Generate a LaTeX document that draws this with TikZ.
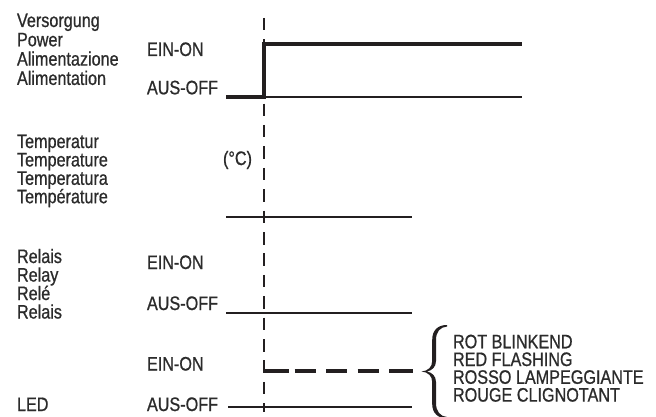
\documentclass[tikz,border=0pt]{standalone}
\usepackage{fontspec}
\setmainfont{Liberation Sans}[FakeStretch=0.83,FakeBold=0.8]
\definecolor{ink}{HTML}{231F20}
\definecolor{txt}{HTML}{2B2B2B}
\begin{document}
\begin{tikzpicture}[x=1pt,y=-1pt,
  lbl/.style={anchor=base west, inner sep=0pt, outer sep=0pt, font=\fontsize{19.5}{20}\selectfont, text=txt},
  rlbl/.style={anchor=base east, inner sep=0pt, outer sep=0pt, font=\fontsize{19.5}{20}\selectfont, text=txt},
  thick line/.style={draw=ink, line width=3.2pt},
  mid line/.style={draw=ink, line width=2.6pt},
  thin line/.style={draw=ink, line width=1.8pt},
  marker/.style={draw=ink, line width=1.5pt, dash pattern=on 12.5pt off 8.9pt},
  blink/.style={draw=ink, line width=3.6pt, dash pattern=on 24.5pt off 6pt on 21pt off 10.5pt on 21pt off 10.5pt on 21pt off 10.5pt on 30pt}
]
\useasboundingbox (0,0) rectangle (656,417);

% ---- left labels ----
\foreach \t/\y [count=\i] in {Versorgung/27, Power/46.3, Alimentazione/65.6, Alimentation/84.9}
  \node[lbl] (pw\i) at (17,\y) {\t};
\foreach \t/\y [count=\i] in {Temperatur/148, Temperature/166.4, Temperatura/184.8, Température/203.2}
  \node[lbl] (tp\i) at (17,\y) {\t};
\foreach \t/\y [count=\i] in {Relais/263, Relay/281.5, Relé/300, Relais/318.5}
  \node[lbl] (rl\i) at (17,\y) {\t};
\node[lbl] (led) at (17,411) {LED};

% ---- state labels ----
\node[lbl] (pwon) at (147,56) {EIN-ON};
\node[lbl] (pwoff) at (147,94.3) {AUS-OFF};
\node[rlbl] (degc) at (252,165) {(°C)};
\node[lbl] (rlon) at (147,269) {EIN-ON};
\node[lbl] (rloff) at (147,310) {AUS-OFF};
\node[lbl] (ledon) at (147,370.5) {EIN-ON};
\node[lbl] (ledoff) at (147,411) {AUS-OFF};

% ---- coordinates ----
\coordinate (mtop) at (264,18);
\coordinate (mbot) at (264,412);
\coordinate (p0) at (226,97);
\coordinate (p1) at (264,97);
\coordinate (p2) at (264,44);
\coordinate (p3) at (522,44);
\coordinate (p4) at (522,97);
\coordinate (t0) at (226,217);
\coordinate (t1) at (412,217);
\coordinate (r0) at (226,313);
\coordinate (r1) at (412,313);
\coordinate (l0) at (264,371);
\coordinate (l1) at (413,371);
\coordinate (o0) at (228,407);
\coordinate (o1) at (412,407);

% ---- time marker ----
\draw[marker] (mtop) -- (mbot);

% ---- power ----
\draw[thin line] (p1) -- (p4);
\draw[thick line, line join=miter] (p0) -- (p1) -- (p2) -- (p3);

% ---- temperature ----
\draw[mid line] (t0) -- (t1);

% ---- relay ----
\draw[mid line] (r0) -- (r1);

% ---- LED ----
\draw[blink] (l0) -- (l1);
\draw[thin line] (o0) -- (o1);

% ---- brace (filled, tapered) ----
\fill[ink]
  (447,325) .. controls (438,325) and (432.2,330) .. (432.2,340) -- (432.2,361)
  .. controls (432.2,367) and (428,371) .. (421.5,371.5)
  .. controls (428,372) and (432.2,376) .. (432.2,382) -- (432.2,404)
  .. controls (432.2,413) and (438,418.5) .. (447,418.5)
  -- (447,417) .. controls (440,416.5) and (436,411) .. (436,403) -- (436,382)
  .. controls (436,376) and (432,372.5) .. (427,371.5)
  .. controls (432,370.5) and (436,367) .. (436,361) -- (436,340)
  .. controls (436,332) and (440,327) .. (447,326.5) -- cycle;

\foreach \t/\y [count=\i] in {ROT BLINKEND/348.3, RED FLASHING/366, ROSSO LAMPEGGIANTE/383.8, ROUGE CLIGNOTANT/401.6}
  \node[lbl] (bl\i) at (453,\y) {\t};
\end{tikzpicture}
\end{document}
